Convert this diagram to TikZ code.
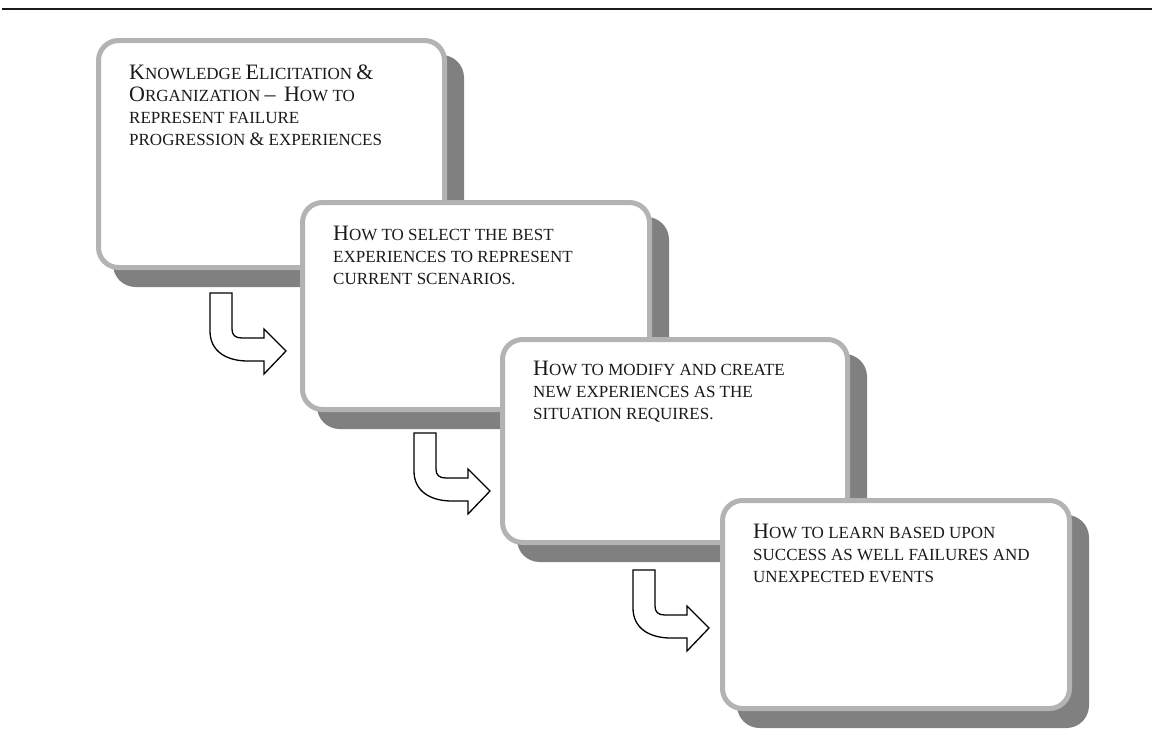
\documentclass[tikz,border=0pt]{standalone}
\usepackage{fontspec}
\setmainfont{Liberation Serif}
\usetikzlibrary{calc}

\definecolor{rimgray}{HTML}{B3B3B3}
\definecolor{shadegray}{HTML}{808080}
\definecolor{inkblack}{HTML}{1A1A1A}

% large initial capital inside small-cap style text
\newcommand{\Ini}[1]{{\fontsize{22}{22}\selectfont #1}}

\tikzset{
  stagebox/.style={draw=rimgray, line width=5pt, fill=white, rounded corners=20pt,
    inner sep=0pt, outer sep=0pt, anchor=north west},
  stageshade/.style={fill=shadegray, rounded corners=22.5pt,
    inner sep=0pt, outer sep=0pt, anchor=north west},
  stagetext/.style={anchor=base west, inner sep=0pt, text=inkblack},
  arrowline/.style={draw=black, fill=white, line width=1.3pt, line join=miter},
  topline/.style={draw=inkblack, line width=2pt},
  bentarrow/.pic={
    \path[arrowline] (0,0) -- (22,0) -- (22,36)
      .. controls (22,42) and (25,45) .. (32,45) -- (54,45) -- (54,36)
      -- (76,58) -- (54,81) -- (54,68) -- (38,68)
      .. controls (16,68) and (0,58) .. (0,38) -- cycle;
  }
}

\newcommand{\stagefont}{\fontsize{17}{22}\selectfont}

\begin{document}
\begin{tikzpicture}[x=1pt, y=-1pt]
  \useasboundingbox (0,0) rectangle (1152,729);

  % rule across the top
  \coordinate (ruleL) at (2,8.5);
  \coordinate (ruleR) at (1152,8.5);
  \draw[topline] (ruleL) -- (ruleR);

  % outer corners of the four stages
  \coordinate (c1) at (96,38);
  \coordinate (c2) at (300,200);
  \coordinate (c3) at (500,337);
  \coordinate (c4) at (720,498);

  % stage 1
  \node[stageshade, minimum width=351pt, minimum height=232pt] (s1) at ([shift={(17,17)}]c1) {};
  \node[stagebox, minimum width=346pt, minimum height=227pt] (b1) at ([shift={(2.5,2.5)}]c1) {};
  \node[stagetext] (t1) at (129,79) {\stagefont\begin{tabular}[t]{@{}l@{}}
    \Ini{K}NOWLEDGE \Ini{E}LICITATION \Ini{\&}\\
    \Ini{O}RGANIZATION \Ini{–}\ \ \Ini{H}OW TO\\
    REPRESENT FAILURE\\
    PROGRESSION {\fontsize{19}{19}\selectfont\&} EXPERIENCES
  \end{tabular}};

  % stage 2
  \node[stageshade, minimum width=352pt, minimum height=212pt] (s2) at ([shift={(17,17)}]c2) {};
  \node[stagebox, minimum width=347pt, minimum height=207pt] (b2) at ([shift={(2.5,2.5)}]c2) {};
  \node[stagetext] (t2) at (333,240) {\stagefont\begin{tabular}[t]{@{}l@{}}
    \Ini{H}OW TO SELECT THE BEST\\
    EXPERIENCES TO REPRESENT\\
    CURRENT SCENARIOS.
  \end{tabular}};

  % stage 3
  \node[stageshade, minimum width=350pt, minimum height=208pt] (s3) at ([shift={(17,17)}]c3) {};
  \node[stagebox, minimum width=345pt, minimum height=203pt] (b3) at ([shift={(2.5,2.5)}]c3) {};
  \node[stagetext] (t3) at (533,375) {\stagefont\begin{tabular}[t]{@{}l@{}}
    \Ini{H}OW TO MODIFY AND CREATE\\
    NEW EXPERIENCES AS THE\\
    SITUATION REQUIRES.
  \end{tabular}};

  % stage 4
  \node[stageshade, minimum width=352pt, minimum height=213pt] (s4) at ([shift={(17,17)}]c4) {};
  \node[stagebox, minimum width=347pt, minimum height=208pt] (b4) at ([shift={(2.5,2.5)}]c4) {};
  \node[stagetext] (t4) at (753,538) {\stagefont\begin{tabular}[t]{@{}l@{}}
    \Ini{H}OW TO LEARN BASED UPON\\
    SUCCESS AS WELL FAILURES AND\\
    UNEXPECTED EVENTS
  \end{tabular}};

  % bent arrows leading from one stage to the next
  \pic (a1) at (210,293) {bentarrow};
  \pic (a2) at (414,433) {bentarrow};
  \pic (a3) at (633,570) {bentarrow};
\end{tikzpicture}
\end{document}
